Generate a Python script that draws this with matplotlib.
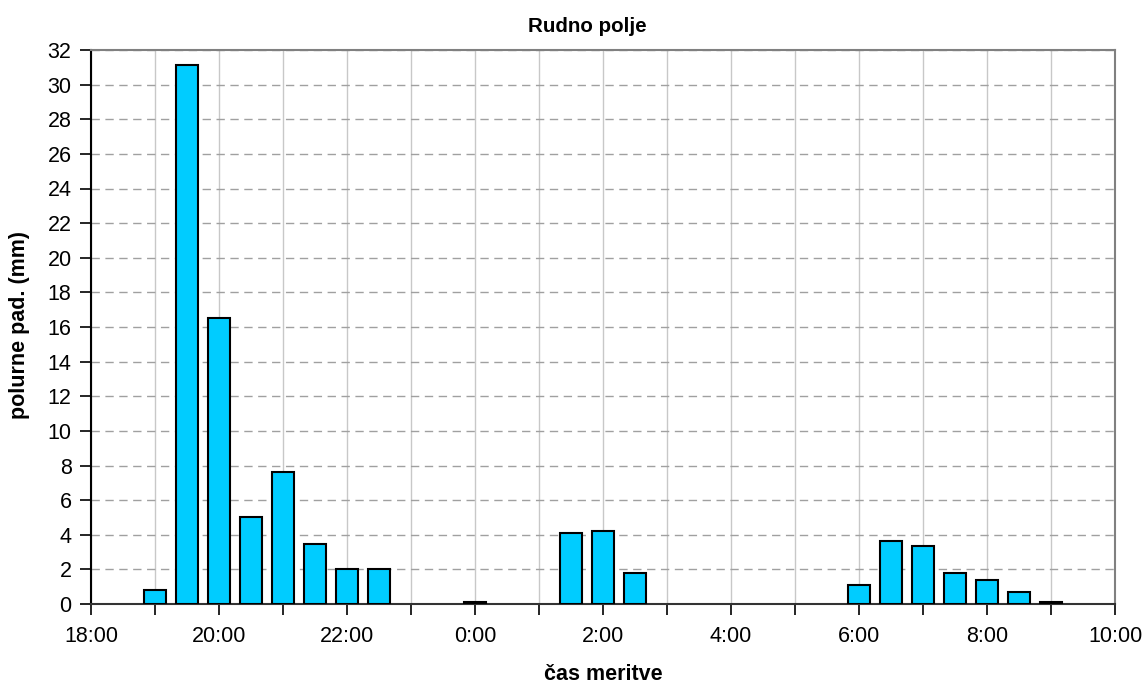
import matplotlib
matplotlib.use("Agg")
import matplotlib.pyplot as plt
from matplotlib.ticker import MultipleLocator

plt.rcParams['font.family'] = ['Liberation Sans', 'DejaVu Sans']

# measurement times (clock) and half-hour precipitation (mm)
times = ["19:00", "19:30", "20:00", "20:30", "21:00", "21:30", "22:00", "22:30",
         "0:00", "1:30", "2:00", "2:30",
         "6:00", "6:30", "7:00", "7:30", "8:00", "8:30", "9:00"]
rain = [0.8, 31.15, 16.5, 5.04, 7.65, 3.47, 2.0, 2.0,
        0.1, 4.1, 4.2, 1.8,
        1.12, 3.64, 3.33, 1.8, 1.38, 0.72, 0.1]

x_labels = ["18:00", "20:00", "22:00", "0:00", "2:00", "4:00", "6:00", "8:00", "10:00"]


def hours_from_start(t, start=18):
    h, m = t.split(":")
    return (int(h) + int(m) / 60 - start) % 24


x = [hours_from_start(t) for t in times]

W, H = 1147, 684
fig = plt.figure(figsize=(W / 100, H / 100), dpi=100)
ax = fig.add_axes([91 / W, 1 - 604 / H, (1115 - 91) / W, (604 - 50) / H])

ax.bar(x, rain, width=0.35, color="#00CCFF", edgecolor="black", linewidth=1.5, zorder=3)

ax.set_xlim(0, 16)
ax.set_ylim(0, 32)
ax.set_xticks([hours_from_start(t) for t in x_labels[:-1]] + [16])
ax.set_xticklabels(x_labels)
ax.xaxis.set_minor_locator(MultipleLocator(1))
ax.yaxis.set_major_locator(MultipleLocator(2))

ax.grid(axis="x", which="both", color="#c8c8c8", linewidth=1, linestyle="-", zorder=0)
ax.grid(axis="y", which="major", color="#a0a0a0", linewidth=1, linestyle=(0, (6, 4)), zorder=0)

ax.tick_params(axis="both", which="both", direction="out", length=8, width=1.2, colors="black",
               labelsize=15.5)
ax.tick_params(axis="x", which="major", pad=8)
ax.tick_params(axis="y", pad=6)

ax.spines["left"].set_color("black")
ax.spines["left"].set_linewidth(1.5)
ax.spines["bottom"].set_color("#333333")
ax.spines["bottom"].set_linewidth(1.5)
ax.spines["top"].set_color("#808080")
ax.spines["top"].set_linewidth(1.5)
ax.spines["right"].set_color("#808080")
ax.spines["right"].set_linewidth(1.5)

fig.text(587 / W, 1 - 26 / H, "Rudno polje", fontsize=14.8, fontweight="bold",
         ha="center", va="center")
fig.text(603 / W, 1 - 675 / H, "čas meritve", fontsize=15.5, fontweight="bold",
         ha="center", va="center")
fig.text(20 / W, 1 - 325 / H, "polurne pad. (mm)", fontsize=15.5, fontweight="bold",
         ha="center", va="center", rotation=90)

fig.savefig("out.png", dpi=100)
